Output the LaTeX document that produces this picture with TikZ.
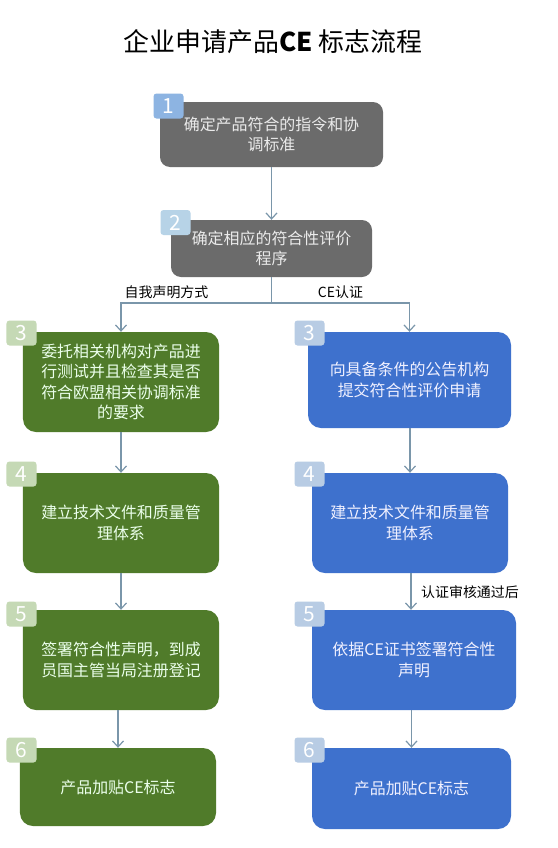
\documentclass[tikz,border=0pt]{standalone}
\usepackage{fontspec}
\setmainfont{Noto Sans CJK SC}
\usetikzlibrary{arrows.meta}
\definecolor{boxgray}{RGB}{107,107,107}
\definecolor{boxgreen}{RGB}{80,123,42}
\definecolor{boxblue}{RGB}{62,113,205}
\definecolor{tagblue}{RGB}{141,180,226}
\definecolor{tagpale}{RGB}{183,211,231}
\definecolor{taggreen}{RGB}{197,217,181}
\definecolor{tagsky}{RGB}{184,204,228}
\definecolor{flowline}{RGB}{122,150,170}
\begin{document}
\begin{tikzpicture}[x=1bp,y=-1bp,font=\fontsize{16}{20.5}\selectfont]
  \tikzset{
    stepbox/.style={rounded corners=13bp,align=center,inner sep=3bp},
    greybox/.style={stepbox,fill=boxgray,text=black!8,rounded corners=10bp},
    greenbox/.style={stepbox,fill=boxgreen,text=green!8!white,minimum width=196bp},
    bluebox/.style={stepbox,fill=boxblue,text=blue!6!white},
    tag/.style={rounded corners=3bp,minimum width=30bp,minimum height=25bp,inner sep=0pt,
      text=white,font=\fontsize{21}{21}\selectfont},
    flow/.style={draw=flowline,line width=1.2bp,-{Straight Barb[length=6bp,width=11bp]}},
    branch/.style={font=\fontsize{14}{14}\selectfont}
  }
  \useasboundingbox (0,0) rectangle (558,848);
  \fill[white] (0,0) rectangle (558,848);

  % Title.
  \node (title) at (273,42) {\fontsize{26}{26}\selectfont 企业申请产品\textbf{CE} 标志流程};

  % Shared steps 1 and 2.
  \node[greybox,minimum width=223bp,minimum height=65bp] (s1) at (271.5,134.5)
    {确定产品符合的指令和协\\调标准};
  \node[tag,fill=tagblue] (t1) at (168.5,106) {1};
  \node[greybox,minimum width=201bp,minimum height=57bp] (s2) at (271.5,248.5)
    {确定相应的符合性评价\\程序};
  \node[tag,fill=tagpale] (t2) at (175.5,222.5) {2};

  % Left branch: self declaration.
  \node[greenbox,minimum height=100bp] (l3) at (121,382)
    {委托相关机构对产品进\\行测试并且检查其是否\\符合欧盟相关协调标准\\的要求};
  \node[greenbox,minimum height=100bp] (l4) at (121,523) {建立技术文件和质量管\\理体系};
  \node[greenbox,minimum height=100bp] (l5) at (121,660)
    {签署符合性声明，到成\\员国主管当局注册登记};
  \node[greenbox,minimum height=78bp] (l6) at (118,787) {产品加贴CE标志};
  \foreach \n/\y in {3/333,4/474,5/614,6/750}
    \node[tag,fill=taggreen] (lt\n) at (21.5,\y) {\n};

  % Right branch: CE certification.
  \node[bluebox,minimum width=203bp,minimum height=96bp] (r3) at (409.5,380)
    {向具备条件的公告机构\\提交符合性评价申请};
  \node[bluebox,minimum width=196bp,minimum height=100bp] (r4) at (410,523)
    {建立技术文件和质量管\\理体系};
  \node[bluebox,minimum width=204bp,minimum height=100bp] (r5) at (414,660)
    {依据CE证书签署符合性\\声明};
  \node[bluebox,minimum width=199bp,minimum height=81bp] (r6) at (411.5,788.5) {产品加贴CE标志};
  \foreach \n/\y in {3/333,4/474,5/614,6/750}
    \node[tag,fill=tagsky] (rt\n) at (309.5,\y) {\n};

  % Connectors.
  \coordinate (fork) at (271.5,303);
  \draw[flow] (s1) -- (s2);
  \draw[flowline,line width=1.2bp] (s2.south) -- (fork);
  \draw[flow] (fork) -| (l3.north);
  \draw[flow] (fork) -| (r3.north);
  \draw[flow] (l3) -- (l4);
  \draw[flow] (l4) -- (l5);
  \draw[flow] (l5.south -| l6.north) -- (l6.north);
  \draw[flow] (r3.south -| r4.north) -- (r4.north);
  \draw[flow] (r4.south -| 411,0) -- (r5.north -| 411,0);
  \draw[flow] (r5.south -| r6.north) -- (r6.north);

  % Branch labels.
  \node[branch] (selfdecl) at (166.5,292) {自我声明方式};
  \node[branch] (cecert) at (340.5,292) {CE认证};
  \node[branch] (passed) at (470,592) {认证审核通过后};
\end{tikzpicture}
\end{document}
